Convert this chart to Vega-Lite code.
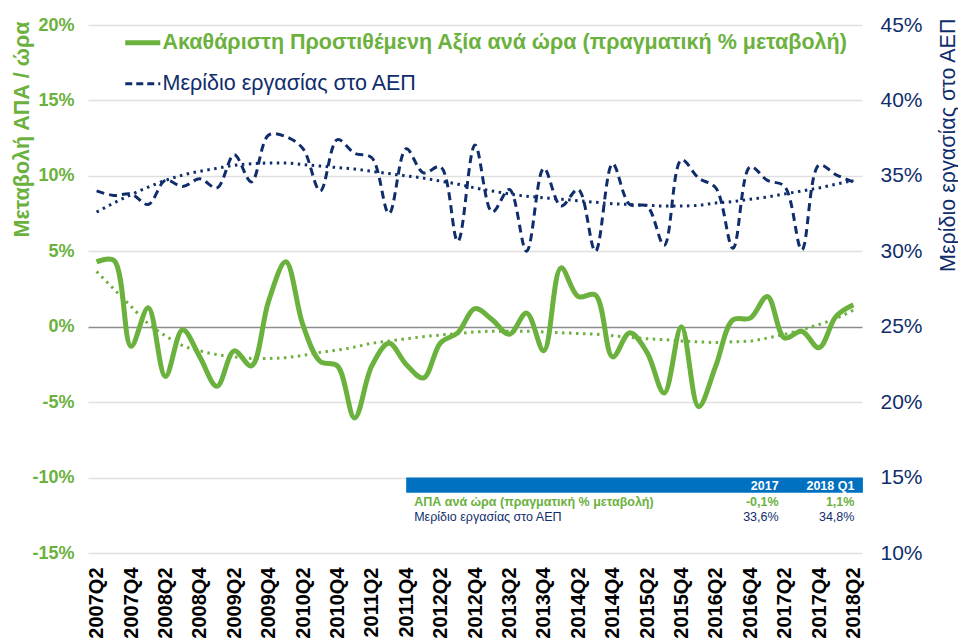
{
  "$schema": "https://vega.github.io/schema/vega-lite/v6.json",
  "width": 774,
  "height": 528,
  "autosize": "none",
  "padding": {"left": 88, "top": 25, "right": 96, "bottom": 88},
  "background": "white",
  "config": {"font": "Liberation Sans", "view": {"stroke": null}},
  "datasets": {
    "q": [
      {"q": "2007Q2", "g": 4.3, "n": 34.0, "gt": 3.66, "nt": 32.6},
      {"q": "2007Q3", "g": 4.4, "n": 33.7, "gt": 2.5, "nt": 33.2},
      {"q": "2007Q4", "g": -1.3, "n": 33.8, "gt": 1.35, "nt": 33.75},
      {"q": "2008Q1", "g": 1.25, "n": 33.1, "gt": 0.2, "nt": 34.25},
      {"q": "2008Q2", "g": -3.3, "n": 34.7, "gt": -0.6, "nt": 34.7},
      {"q": "2008Q3", "g": -0.2, "n": 34.3, "gt": -1.25, "nt": 35.05},
      {"q": "2008Q4", "g": -2.0, "n": 34.8, "gt": -1.6, "nt": 35.3},
      {"q": "2009Q1", "g": -3.95, "n": 34.2, "gt": -1.85, "nt": 35.5},
      {"q": "2009Q2", "g": -1.6, "n": 36.4, "gt": -2.0, "nt": 35.7},
      {"q": "2009Q3", "g": -2.6, "n": 34.6, "gt": -2.1, "nt": 35.8},
      {"q": "2009Q4", "g": 1.7, "n": 37.7, "gt": -2.1, "nt": 35.85},
      {"q": "2010Q1", "g": 4.3, "n": 37.6, "gt": -2.05, "nt": 35.85},
      {"q": "2010Q2", "g": 0.1, "n": 36.8, "gt": -1.9, "nt": 35.75},
      {"q": "2010Q3", "g": -2.3, "n": 34.0, "gt": -1.7, "nt": 35.65},
      {"q": "2010Q4", "g": -2.6, "n": 37.4, "gt": -1.55, "nt": 35.55},
      {"q": "2011Q1", "g": -6.05, "n": 36.5, "gt": -1.35, "nt": 35.45},
      {"q": "2011Q2", "g": -2.6, "n": 36.2, "gt": -1.1, "nt": 35.3},
      {"q": "2011Q3", "g": -1.1, "n": 32.5, "gt": -0.95, "nt": 35.15},
      {"q": "2011Q4", "g": -2.5, "n": 36.8, "gt": -0.8, "nt": 35.0},
      {"q": "2012Q1", "g": -3.4, "n": 35.2, "gt": -0.66, "nt": 34.85},
      {"q": "2012Q2", "g": -1.06, "n": 35.6, "gt": -0.55, "nt": 34.65},
      {"q": "2012Q3", "g": -0.4, "n": 30.65, "gt": -0.45, "nt": 34.45},
      {"q": "2012Q4", "g": 1.2, "n": 37.05, "gt": -0.35, "nt": 34.2},
      {"q": "2013Q1", "g": 0.46, "n": 32.6, "gt": -0.3, "nt": 34.0},
      {"q": "2013Q2", "g": -0.5, "n": 34.1, "gt": -0.3, "nt": 33.8},
      {"q": "2013Q3", "g": 0.9, "n": 30.0, "gt": -0.3, "nt": 33.65},
      {"q": "2013Q4", "g": -1.6, "n": 35.5, "gt": -0.35, "nt": 33.55},
      {"q": "2014Q1", "g": 3.9, "n": 33.0, "gt": -0.4, "nt": 33.45},
      {"q": "2014Q2", "g": 2.0, "n": 34.1, "gt": -0.45, "nt": 33.35},
      {"q": "2014Q3", "g": 2.1, "n": 30.0, "gt": -0.5, "nt": 33.25},
      {"q": "2014Q4", "g": -2.0, "n": 35.8, "gt": -0.6, "nt": 33.15},
      {"q": "2015Q1", "g": -0.4, "n": 33.1, "gt": -0.7, "nt": 33.1},
      {"q": "2015Q2", "g": -1.7, "n": 33.0, "gt": -0.8, "nt": 33.05},
      {"q": "2015Q3", "g": -4.4, "n": 30.4, "gt": -0.86, "nt": 33.0},
      {"q": "2015Q4", "g": 0.0, "n": 36.06, "gt": -0.95, "nt": 33.0},
      {"q": "2016Q1", "g": -5.3, "n": 34.85, "gt": -1.0, "nt": 33.05},
      {"q": "2016Q2", "g": -2.6, "n": 34.2, "gt": -1.05, "nt": 33.2},
      {"q": "2016Q3", "g": 0.46, "n": 30.2, "gt": -1.0, "nt": 33.3},
      {"q": "2016Q4", "g": 0.57, "n": 35.6, "gt": -0.95, "nt": 33.45},
      {"q": "2017Q1", "g": 2.0, "n": 34.7, "gt": -0.75, "nt": 33.6},
      {"q": "2017Q2", "g": -0.75, "n": 34.3, "gt": -0.5, "nt": 33.8},
      {"q": "2017Q3", "g": -0.3, "n": 30.1, "gt": -0.2, "nt": 34.0},
      {"q": "2017Q4", "g": -1.4, "n": 35.7, "gt": 0.15, "nt": 34.2},
      {"q": "2018Q1", "g": 0.7, "n": 35.07, "gt": 0.55, "nt": 34.45},
      {"q": "2018Q2", "g": 1.46, "n": 34.6, "gt": 1.1, "nt": 34.7}
    ],
    "tbl": [
      {"row": "header", "label": "", "c2017": "2017", "c2018": "2018 Q1"},
      {"row": "gva", "label": "ΑΠΑ ανά ώρα (πραγματική % μεταβολή)", "c2017": "-0,1%", "c2018": "1,1%"},
      {"row": "share", "label": "Μερίδιο εργασίας στο ΑΕΠ", "c2017": "33,6%", "c2018": "34,8%"}
    ]
  },
  "resolve": {"scale": {"y": "independent"}, "axis": {"y": "independent"}},
  "layer": [
    {
      "layer": [
        {
          "data": {"name": "q"},
          "mark": {"type": "line", "color": "#6BB13D", "strokeWidth": 3, "strokeDash": [2.5, 4.5], "interpolate": "monotone"},
          "encoding": {
            "x": {"field": "q", "type": "ordinal", "scale": {"type": "point", "padding": 0.5},
              "axis": {"values": ["2007Q2","2007Q4","2008Q2","2008Q4","2009Q2","2009Q4","2010Q2","2010Q4","2011Q2","2011Q4","2012Q2","2012Q4","2013Q2","2013Q4","2014Q2","2014Q4","2015Q2","2015Q4","2016Q2","2016Q4","2017Q2","2017Q4","2018Q2"],
                "title": null, "labelAngle": -90, "labelAlign": "right", "labelBaseline": "middle", "labelFontSize": 20, "labelFontWeight": "bold", "labelColor": "#000000", "labelPadding": 14, "ticks": false, "domain": false, "grid": false, "labelOverlap": false, "labelFlush": false}},
            "y": {"field": "gt", "type": "quantitative", "scale": {"domain": [-15, 20], "nice": false, "zero": false},
              "axis": {"orient": "left", "values": [-15, -10, -5, 0, 5, 10, 15, 20], "labelExpr": "datum.value + '%'",
                "labelFontSize": 18, "labelFontWeight": "bold", "labelColor": "#6BB13D", "labelPadding": 14,
                "ticks": false, "domain": false, "grid": true,
                "gridColor": {"condition": {"test": "datum.value === 0", "value": "#8C8C8C"}, "value": "#E0E0E0"},
                "gridWidth": {"condition": {"test": "datum.value === 0", "value": 1.6}, "value": 1.3},
                "title": "Μεταβολή ΑΠΑ / ώρα", "titleFontSize": 21.5, "titleFontWeight": "bold", "titleColor": "#6BB13D",
                "titleAngle": -90, "titleAlign": "right", "titleBaseline": "middle", "titleX": -66, "titleY": -4}}
          }
        },
        {
          "data": {"name": "q"},
          "mark": {"type": "line", "strokeWidth": 5, "interpolate": "catmull-rom"},
          "encoding": {
            "x": {"field": "q", "type": "ordinal"},
            "y": {"field": "g", "type": "quantitative"},
            "color": {"datum": "Ακαθάριστη Προστιθέμενη Αξία ανά ώρα (πραγματική % μεταβολή)",
              "scale": {"domain": ["Ακαθάριστη Προστιθέμενη Αξία ανά ώρα (πραγματική % μεταβολή)", "Μερίδιο εργασίας στο ΑΕΠ"], "range": ["#6BB13D", "#102D6B"]},
              "legend": {"orient": "none", "legendX": 44, "legendY": 7, "title": null, "direction": "vertical",
                "symbolType": "stroke", "symbolSize": 1225, "symbolStrokeWidth": 4, "labelFontSize": 21.5, "labelOffset": 9, "labelLimit": 900, "rowPadding": 18,
                "encode": {
                  "labels": {"update": {
                    "fill": {"signal": "datum.value === 'Μερίδιο εργασίας στο ΑΕΠ' ? '#102D6B' : '#6BB13D'"},
                    "fontWeight": {"signal": "datum.value === 'Μερίδιο εργασίας στο ΑΕΠ' ? 'normal' : 'bold'"}}},
                  "symbols": {"update": {
                    "strokeDash": {"signal": "datum.value === 'Μερίδιο εργασίας στο ΑΕΠ' ? [7, 4] : [1, 0]"},
                    "strokeWidth": {"signal": "datum.value === 'Μερίδιο εργασίας στο ΑΕΠ' ? 3 : 5"}}}
                }}}
          }
        },
        {
          "data": {"name": "tbl"},
          "transform": [{"filter": "datum.row === 'header'"}],
          "mark": {"type": "rect", "color": "#0070C0", "x2Offset": 9.5},
          "encoding": {
            "x": {"datum": "2011Q4", "type": "ordinal"},
            "x2": {"datum": "2018Q2"},
            "y": {"datum": -10, "type": "quantitative"},
            "y2": {"datum": -11}
          }
        },
        {
          "data": {"name": "tbl"},
          "transform": [{"filter": "datum.row === 'header'"}],
          "mark": {"type": "text", "color": "#FFFFFF", "fontWeight": "bold", "fontSize": 12.5, "align": "right", "baseline": "middle", "dx": -6},
          "encoding": {
            "x": {"datum": "2017Q2", "type": "ordinal"},
            "y": {"datum": -10.53, "type": "quantitative"},
            "text": {"field": "c2017"}
          }
        },
        {
          "data": {"name": "tbl"},
          "transform": [{"filter": "datum.row === 'header'"}],
          "mark": {"type": "text", "color": "#FFFFFF", "fontWeight": "bold", "fontSize": 12.5, "align": "right", "baseline": "middle", "dx": 1},
          "encoding": {
            "x": {"datum": "2018Q2", "type": "ordinal"},
            "y": {"datum": -10.53, "type": "quantitative"},
            "text": {"field": "c2018"}
          }
        },
        {
          "data": {"name": "tbl"},
          "transform": [{"filter": "datum.row === 'gva'"}],
          "mark": {"type": "text", "color": "#6BB13D", "fontWeight": "bold", "fontSize": 12.5, "align": "left", "baseline": "middle", "dx": 8},
          "encoding": {
            "x": {"datum": "2011Q4", "type": "ordinal"},
            "y": {"datum": -11.6, "type": "quantitative"},
            "text": {"field": "label"}
          }
        },
        {
          "data": {"name": "tbl"},
          "transform": [{"filter": "datum.row === 'gva'"}],
          "mark": {"type": "text", "color": "#6BB13D", "fontWeight": "bold", "fontSize": 12.5, "align": "right", "baseline": "middle", "dx": -6},
          "encoding": {
            "x": {"datum": "2017Q2", "type": "ordinal"},
            "y": {"datum": -11.6, "type": "quantitative"},
            "text": {"field": "c2017"}
          }
        },
        {
          "data": {"name": "tbl"},
          "transform": [{"filter": "datum.row === 'gva'"}],
          "mark": {"type": "text", "color": "#6BB13D", "fontWeight": "bold", "fontSize": 12.5, "align": "right", "baseline": "middle", "dx": 1},
          "encoding": {
            "x": {"datum": "2018Q2", "type": "ordinal"},
            "y": {"datum": -11.6, "type": "quantitative"},
            "text": {"field": "c2018"}
          }
        },
        {
          "data": {"name": "tbl"},
          "transform": [{"filter": "datum.row === 'share'"}],
          "mark": {"type": "text", "color": "#102D6B", "fontSize": 12.5, "align": "left", "baseline": "middle", "dx": 8},
          "encoding": {
            "x": {"datum": "2011Q4", "type": "ordinal"},
            "y": {"datum": -12.6, "type": "quantitative"},
            "text": {"field": "label"}
          }
        },
        {
          "data": {"name": "tbl"},
          "transform": [{"filter": "datum.row === 'share'"}],
          "mark": {"type": "text", "color": "#102D6B", "fontSize": 12.5, "align": "right", "baseline": "middle", "dx": -6},
          "encoding": {
            "x": {"datum": "2017Q2", "type": "ordinal"},
            "y": {"datum": -12.6, "type": "quantitative"},
            "text": {"field": "c2017"}
          }
        },
        {
          "data": {"name": "tbl"},
          "transform": [{"filter": "datum.row === 'share'"}],
          "mark": {"type": "text", "color": "#102D6B", "fontSize": 12.5, "align": "right", "baseline": "middle", "dx": 1},
          "encoding": {
            "x": {"datum": "2018Q2", "type": "ordinal"},
            "y": {"datum": -12.6, "type": "quantitative"},
            "text": {"field": "c2018"}
          }
        }
      ]
    },
    {
      "layer": [
        {
          "data": {"name": "q"},
          "mark": {"type": "line", "color": "#102D6B", "strokeWidth": 3, "strokeDash": [2.5, 4.5], "interpolate": "monotone"},
          "encoding": {
            "x": {"field": "q", "type": "ordinal"},
            "y": {"field": "nt", "type": "quantitative", "scale": {"domain": [10, 45], "nice": false, "zero": false},
              "axis": {"orient": "right", "values": [10, 15, 20, 25, 30, 35, 40, 45], "labelExpr": "datum.value + '%'",
                "labelFontSize": 21, "labelColor": "#102D6B", "labelPadding": 18, "labelAlign": "left",
                "ticks": false, "domain": false, "grid": false,
                "title": "Μερίδιο εργασίας στο ΑΕΠ", "titleFontSize": 21.5, "titleFontWeight": "normal", "titleColor": "#102D6B",
                "titleAngle": -90, "titleAlign": "right", "titleBaseline": "middle", "titleX": 86, "titleY": -7}}
          }
        },
        {
          "data": {"name": "q"},
          "mark": {"type": "line", "strokeWidth": 3, "strokeDash": [8, 5], "interpolate": "catmull-rom"},
          "encoding": {
            "x": {"field": "q", "type": "ordinal"},
            "y": {"field": "n", "type": "quantitative"},
            "color": {"datum": "Μερίδιο εργασίας στο ΑΕΠ"}
          }
        }
      ]
    }
  ]
}
